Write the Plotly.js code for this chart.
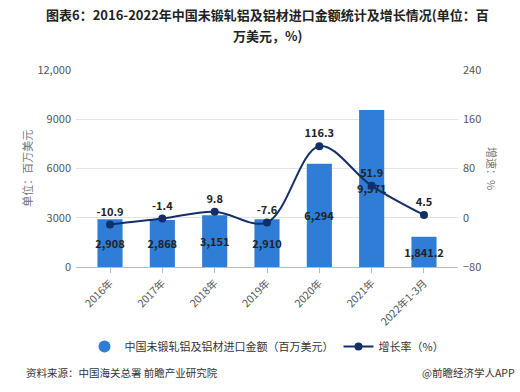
<!DOCTYPE html>
<html>
<head>
<meta charset="utf-8">
<script src="https://cdn.plot.ly/plotly-3.0.1.min.js"></script>
<style>
html,body{margin:0;padding:0;background:#fff;}
#chart{width:520px;height:392px;}
</style>
</head>
<body>
<div id="chart"></div>
<script>
var categories = ["2016年","2017年","2018年","2019年","2020年","2021年","2022年1-3月"];
var importValues = [2908, 2868, 3151, 2910, 6294, 9571, 1841.2];
var growthRates = [-10.9, -1.4, 9.8, -7.6, 116.3, 51.9, 4.5];
var leftTickVals = [0, 3000, 6000, 9000, 12000];
var leftTickText = ["0", "3000", "6000", "9000", "12,000"];
var rightTickVals = [-80, 0, 80, 160, 240];

var FONT = '"Noto Sans CJK SC", "Microsoft YaHei", sans-serif';
var barColor = '#2f7dd6';
var lineColor = '#142f66';

var barLabels = importValues.map(function(v){ return v.toLocaleString('en-US'); });
var lineLabels = growthRates.map(function(v){ return String(v); });

var traces = [
  {
    type: 'bar', x: categories, y: importValues, yaxis: 'y',
    marker: {color: barColor}, width: 0.48,
    text: barLabels, textposition: 'inside', insidetextanchor: 'middle', textangle: 0,
    textfont: {family: FONT, size: 11, color: '#222', weight: 'bold'},
    constraintext: 'none', cliponaxis: false,
    showlegend: false, hoverinfo: 'skip'
  },
  {
    type: 'scatter', x: [null], y: [null], mode: 'markers',
    name: '中国未锻轧铝及铝材进口金额（百万美元）',
    marker: {symbol: 'circle', size: 12, color: barColor}
  },
  {
    type: 'scatter', x: categories, y: growthRates, yaxis: 'y2',
    mode: 'lines+markers+text', name: '增长率（%）',
    line: {color: lineColor, width: 2, shape: 'spline', smoothing: 1},
    marker: {color: lineColor, size: 8},
    text: lineLabels, textposition: 'top center',
    textfont: {family: FONT, size: 11, color: '#222', weight: 'bold'},
    cliponaxis: false
  }
];

var layout = {
  width: 520, height: 392,
  margin: {l: 76, r: 62, t: 70, b: 125},
  paper_bgcolor: '#fff', plot_bgcolor: '#fff',
  font: {family: FONT, size: 11, color: '#555'},
  xaxis: {
    range: [-0.65, 6.65], tickangle: -45,
    tickfont: {family: FONT, size: 10.5, color: '#555'},
    showline: true, linecolor: '#bbb', linewidth: 1,
    ticks: 'outside', ticklen: 5, tickcolor: '#bbb',
    showgrid: false, fixedrange: true
  },
  yaxis: {
    range: [0, 12000], tickvals: leftTickVals, ticktext: leftTickText,
    showgrid: true, gridcolor: '#e3e3e3', zeroline: false,
    tickfont: {family: FONT, size: 11, color: '#555'}, ticks: '', ticklabelstandoff: 4
  },
  yaxis2: {
    range: [-80, 240], tickvals: rightTickVals, overlaying: 'y', side: 'right',
    showgrid: false, zeroline: false,
    tickfont: {family: FONT, size: 11, color: '#555'}, ticks: '', ticklabelstandoff: 4
  },
  legend: {
    orientation: 'h', x: 0.5, xanchor: 'center', y: -0.33, yanchor: 'top',
    font: {family: FONT, size: 11, color: '#333'}, itemwidth: 30
  },
  annotations: [
    {text: '<b>图表6：2016-2022年中国未锻轧铝及铝材进口金额统计及增长情况(单位：百</b>',
     xref: 'paper', yref: 'paper', x: 0.5, y: (267 - 15) / 197, xanchor: 'center', yanchor: 'middle',
     showarrow: false, borderpad: 0, font: {family: FONT, size: 13, color: '#222'}},
    {text: '<b>万美元，%)</b>',
     xref: 'paper', yref: 'paper', x: 0.5, y: (267 - 35) / 197, xanchor: 'center', yanchor: 'middle',
     showarrow: false, borderpad: 0, font: {family: FONT, size: 13, color: '#222'}},
    {text: '单位：百万美元', xref: 'paper', yref: 'paper', x: -0.13, y: 0.5,
     xanchor: 'center', yanchor: 'middle', textangle: -90, showarrow: false,
     font: {family: FONT, size: 11, color: '#777'}},
    {text: '增速：%', xref: 'paper', yref: 'paper', x: 1.09, y: 0.5,
     xanchor: 'center', yanchor: 'middle', textangle: 90, showarrow: false,
     font: {family: FONT, size: 11, color: '#777'}},
    {text: '资料来源：中国海关总署 前瞻产业研究院', xref: 'paper', yref: 'paper',
     x: -0.135, y: -0.535, xanchor: 'left', yanchor: 'middle', showarrow: false,
     font: {family: FONT, size: 10.5, color: '#333'}},
    {text: '@前瞻经济学人APP', xref: 'paper', yref: 'paper',
     x: 1.155, y: -0.535, xanchor: 'right', yanchor: 'middle', showarrow: false,
     font: {family: FONT, size: 10.5, color: '#333'}}
  ]
};

Plotly.newPlot('chart', traces, layout, {displayModeBar: false, staticPlot: true});
</script>
</body>
</html>
